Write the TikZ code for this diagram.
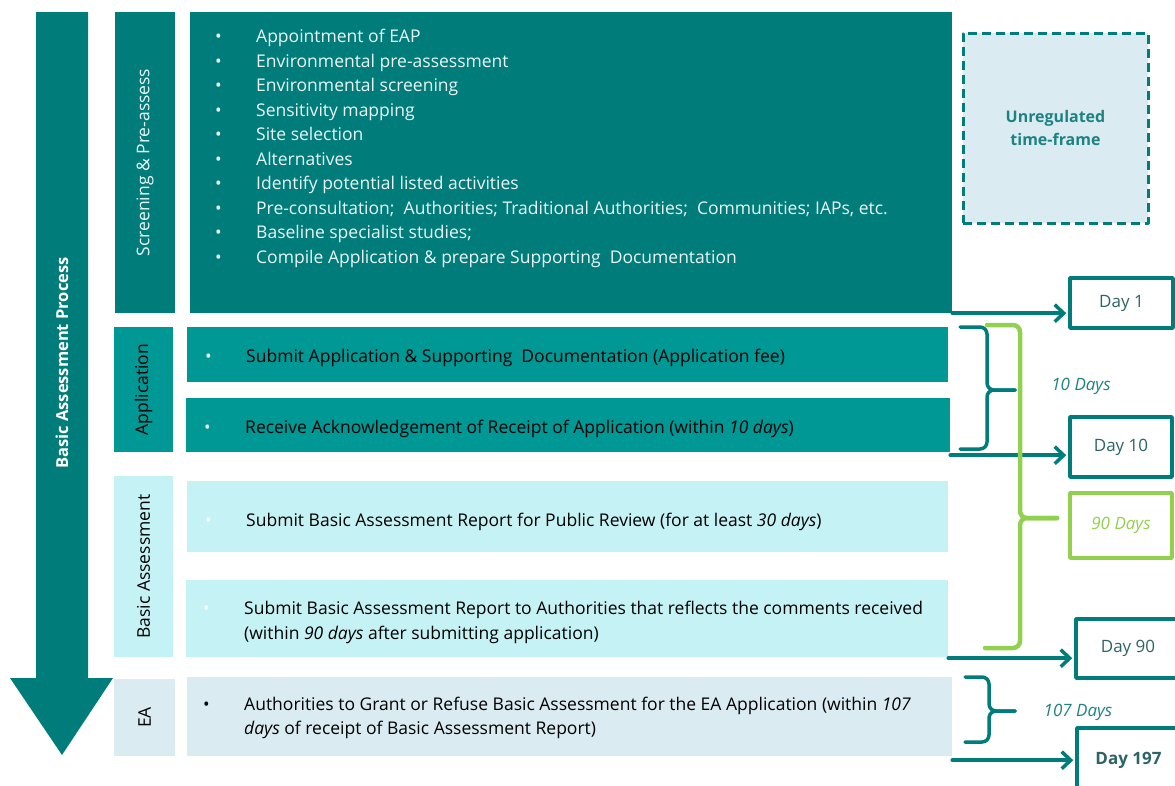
\documentclass[tikz,border=0pt]{standalone}
\usepackage{fontspec}
\setmainfont{Open Sans}
\usepackage{tikz}
\usetikzlibrary{arrows.meta, calc}
\definecolor{tealdark}{RGB}{0,125,122}
\definecolor{tealmid}{RGB}{0,152,149}
\definecolor{cyanlight}{RGB}{197,242,245}
\definecolor{bluepale}{RGB}{218,236,241}
\definecolor{limegreen}{RGB}{146,208,80}
\definecolor{daytext}{RGB}{45,100,100}
\definecolor{tealtext}{RGB}{30,130,130}
\definecolor{whitish}{RGB}{236,246,246}
\newcommand\bodysize{\fontsize{17.5}{24.5}\selectfont}
\newcommand\daysize{\fontsize{17}{22}\selectfont}
\newcommand\bul{\makebox[41pt][l]{\textbullet}}
\tikzset{
    box/.style = {fill=#1, inner sep=0pt},
    listtext/.style = {inner sep=0pt, anchor=west, align=left, font=\bodysize},
    daybox/.style = {draw=#1, line width=3.5pt, fill=white, inner sep=0pt, font=\daysize},
    flow/.style = {draw=tealdark, line width=3.5pt, line cap=round, shorten >=2pt,
        -{Straight Barb[length=9pt,width=17pt,line width=3.5pt]}},
    dbrace/.style = {draw=#1, line width=3.5pt, rounded corners=7pt, line cap=round},
}
\begin{document}
\begin{tikzpicture}[x=1pt, y=-1pt, line join=round]
\useasboundingbox (0,0) rectangle (1175,785);
\clip (0,0) rectangle (1175,785);

\fill[tealdark] (36,12) -- (88,12) -- (88,678) -- (113,678) -- (62,755) -- (10,678) -- (36,678) -- cycle;
\node[text=white, font=\fontsize{16.5}{18}\selectfont\bfseries] (proc) at (62,363) {\rotatebox{90}{Basic Assessment Process}};

\node[box=tealdark, text=whitish, font=\bodysize, minimum width=60pt, minimum height=301pt] (lscreen) at (145,162.5) {\rotatebox{90}{Screening \& Pre-assess}};
\node[box=tealmid, font=\bodysize, minimum width=59pt, minimum height=125pt] (lapp) at (143.5,389.5) {\rotatebox{90}{Application}};
\node[box=cyanlight, font=\bodysize, minimum width=59pt, minimum height=181pt] (lba) at (143.5,566.5) {\rotatebox{90}{Basic Assessment}};
\node[box=bluepale, font=\bodysize, minimum width=61pt, minimum height=77pt] (lea) at (144.5,717.5) {\rotatebox{90}{EA}};

\node[box=tealdark, minimum width=762pt, minimum height=301pt] (screen) at (571,162.5) {};
\node[box=tealmid, minimum width=761pt, minimum height=55pt] (app1) at (567.5,354.5) {};
\node[box=tealmid, minimum width=764pt, minimum height=54pt] (app2) at (568,425) {};
\node[box=cyanlight, minimum width=761pt, minimum height=71pt] (ba1) at (567.5,516.5) {};
\node[box=cyanlight, minimum width=762pt, minimum height=77pt] (ba2) at (567,618.5) {};
\node[box=bluepale, minimum width=765pt, minimum height=79pt] (ea) at (569.5,716.5) {};

\node[listtext, text=whitish] (screenlist) at (215,148.5) {\bul Appointment of EAP\\
\bul Environmental pre-assessment\\
\bul Environmental screening\\
\bul Sensitivity mapping\\
\bul Site selection\\
\bul Alternatives\\
\bul Identify potential listed activities\\
\bul Pre-consultation;\ \ Authorities; Traditional Authorities;\ \ Communities; IAPs, etc.\\
\bul Baseline specialist studies;\\
\bul Compile Application \& prepare Supporting\ \ Documentation};
\node[listtext] (app1text) at (205,357.5) {{\color{whitish}\bul}Submit Application \& Supporting\ \ Documentation (Application fee)};
\node[listtext] (app2text) at (204,428.5) {{\color{whitish}\bul}Receive Acknowledgement of Receipt of Application (within \textit{10 days})};
\node[listtext] (ba1text) at (205,521.5) {{\color{white}\bul}Submit Basic Assessment Report for Public Review (for at least \textit{30 days})};
\node[listtext] (ba2text) at (203,622.5) {{\color{white}\bul}Submit Basic Assessment Report to Authorities that reflects the comments received\\
\hspace{41pt}(within \textit{90 days} after submitting application)};
\node[listtext] (eatext) at (203,718) {\bul Authorities to Grant or Refuse Basic Assessment for the EA Application (within \textit{107}\\
\hspace{41pt}\textit{days} of receipt of Basic Assessment Report)};

\node[box=bluepale, draw=tealdark, line width=3pt, dash pattern=on 9pt off 5pt, minimum width=185pt, minimum height=190pt,
    text=tealtext, font=\fontsize{16}{23}\selectfont\bfseries, align=center] (unreg) at (1055.5,128) {Unregulated\\time-frame};

\node[daybox=tealdark, text=daytext, minimum width=103pt, minimum height=50pt] (day1) at (1121.5,303) {Day 1};
\node[daybox=tealdark, text=daytext, minimum width=102pt, minimum height=60pt] (day10) at (1121,447) {Day 10};
\node[daybox=limegreen, text=limegreen, minimum width=102pt, minimum height=65pt, font=\daysize\itshape] (days90) at (1121,525.5) {90 Days};
\node[daybox=tealdark, text=daytext, minimum width=104pt, minimum height=59pt] (day90) at (1128,648.5) {Day 90};
\node[daybox=tealdark, text=daytext, minimum width=103pt, minimum height=64pt, font=\daysize\bfseries] (day197) at (1128.5,760) {Day 197};

\draw[flow] (screen.south east) -- (screen.south east -| day1.west);
\draw[flow] ([yshift=-3pt]app2.south east) -- ([yshift=-3pt]app2.south east -| day10.west);
\draw[flow] ([yshift=-1pt]ba2.south east) -- ([yshift=-1pt]ba2.south east -| day90.west);
\draw[flow] ([yshift=-4pt]ea.south east) -- ([yshift=-4pt]ea.south east -| day197.west);

\draw[dbrace=limegreen, line width=4.5pt] (987,325) -| (1020,518) -- (1057,518);
\draw[dbrace=limegreen, line width=4.5pt] (1057,518) -- (1020,518) |- (985,648);
\draw[dbrace=tealdark] (960,327) -| (987,390) -- (1015,390);
\draw[dbrace=tealdark] (1015,390) -- (987,390) |- (960,449);
\draw[dbrace=tealdark] (965,677) -| (989,711) -- (1015,711);
\draw[dbrace=tealdark] (1015,711) -- (989,711) |- (965,742);

\node[text=tealtext, font=\daysize\itshape] (d10) at (1081,386) {10 Days};
\node[text=tealtext, font=\daysize\itshape] (d107) at (1078,712) {107 Days};
\end{tikzpicture}
\end{document}
